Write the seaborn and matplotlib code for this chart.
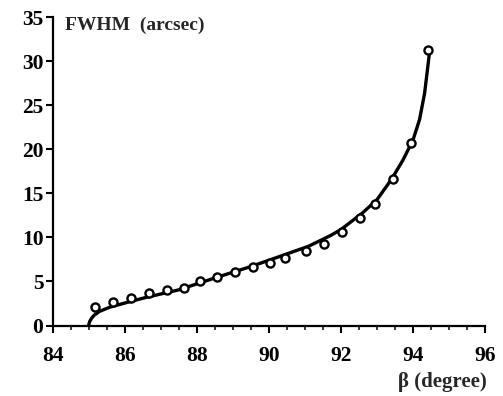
import matplotlib
matplotlib.use("Agg")
import matplotlib.pyplot as plt
import seaborn as sns
import pandas as pd
from matplotlib.ticker import MultipleLocator

# measured points
beta_pts = [85.17, 85.68, 86.17, 86.67, 87.17, 87.66, 88.09, 88.55, 89.06, 89.56,
            90.04, 90.46, 91.03, 91.53, 92.02, 92.53, 92.94, 93.45, 93.94, 94.41]
fwhm_pts = [2.14, 2.70, 3.16, 3.73, 4.03, 4.30, 5.06, 5.55, 6.11, 6.68,
            7.14, 7.67, 8.47, 9.26, 10.66, 12.25, 13.77, 16.61, 20.77, 31.3]

# model curve
beta_curve = [85.0, 85.03, 85.08, 85.15, 85.3, 85.6, 86.0, 86.6, 87.5, 88.5, 89.5,
              90.2, 91.1, 91.7, 92.0, 92.6, 93.0, 93.4, 93.72, 94.0, 94.18, 94.32,
              94.42, 94.46]
fwhm_curve = [0.0, 0.45, 0.8, 1.15, 1.6, 2.1, 2.55, 3.2, 4.05, 5.4, 6.7,
              7.7, 9.0, 10.2, 10.9, 12.8, 14.3, 16.6, 18.8, 21.1, 23.4, 26.4,
              29.8, 31.2]

xticks = [84, 86, 88, 90, 92, 94, 96]
yticks = [0, 5, 10, 15, 20, 25, 30, 35]

sns.set_style("ticks")
plt.rcParams['font.family'] = ['Liberation Serif', 'DejaVu Serif']

fig = plt.figure(figsize=(5.03, 3.96), dpi=100)
ax = fig.add_axes([0.1044, 0.178, 0.9646 - 0.1044, 0.956 - 0.178])

dfc = pd.DataFrame({"beta": beta_curve, "fwhm": fwhm_curve})
dfp = pd.DataFrame({"beta": beta_pts, "fwhm": fwhm_pts})
sns.lineplot(data=dfc, x="beta", y="fwhm", ax=ax, color="black", lw=2.4, sort=False)
sns.scatterplot(data=dfp, x="beta", y="fwhm", ax=ax, marker="o", s=34,
                facecolor="white", edgecolor="black", linewidth=1.7, zorder=5)

ax.set_xlim(84, 96)
ax.set_ylim(0, 35)
ax.set_xticks(xticks)
ax.set_yticks(yticks)
ax.xaxis.set_minor_locator(MultipleLocator(0.5))
ax.set_xlabel("")
ax.set_ylabel("")
for s in ["top", "right"]:
    ax.spines[s].set_visible(False)
for s in ["left", "bottom"]:
    ax.spines[s].set_linewidth(1.6)
    ax.spines[s].set_color("black")

ax.tick_params(axis="x", which="major", length=5, width=1.5, direction="out",
               pad=9.5, labelsize=15.5, colors="black")
ax.tick_params(axis="x", which="minor", length=3, width=1.3, direction="out")
ax.tick_params(axis="y", which="major", length=5, width=1.5, direction="out",
               pad=1.5, labelsize=15.5, colors="black")
for lab in ax.get_xticklabels() + ax.get_yticklabels():
    lab.set_fontweight("bold")

fig.text(0.129, 0.937, "FWHM  (arcsec)", fontsize=14, fontweight="bold",
         ha="left", va="center")
fig.text(0.9685, 0.035, "β (degree)", fontsize=15, fontweight="bold",
         ha="right", va="center")

fig.savefig("out.png", dpi=100, facecolor="white")
